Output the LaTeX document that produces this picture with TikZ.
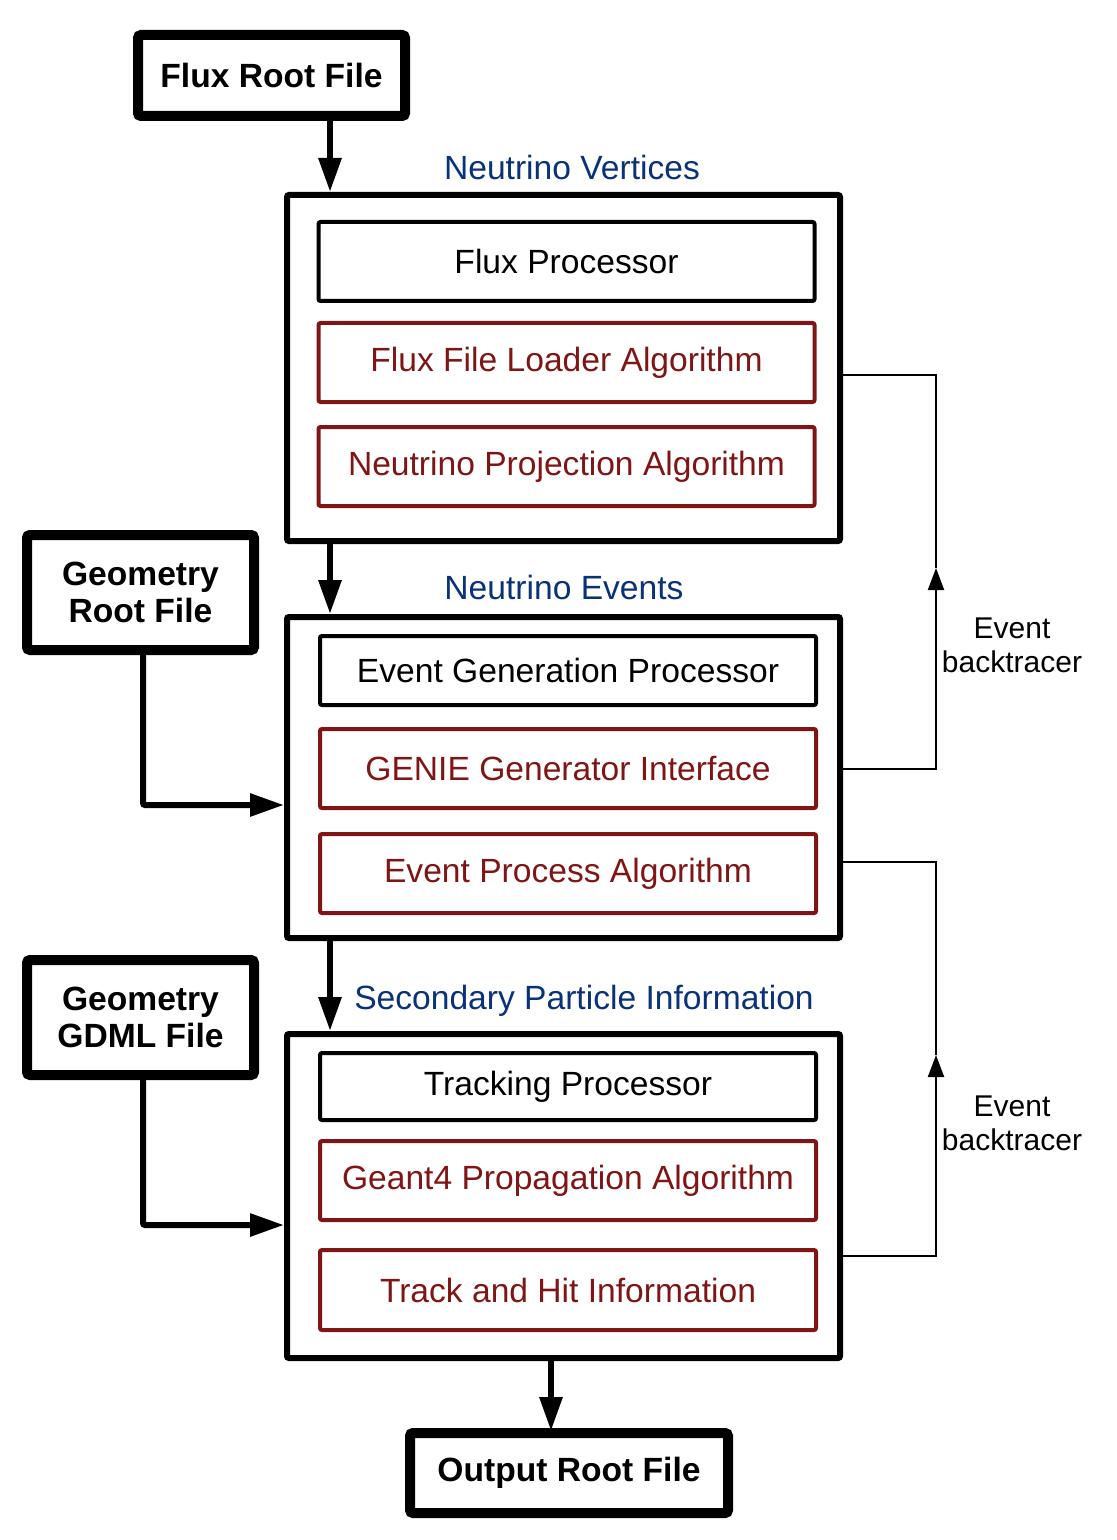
\documentclass[tikz,border=0pt]{standalone}
\usepackage{fontspec}
\setmainfont{Liberation Sans}
\usetikzlibrary{arrows.meta}
\definecolor{algred}{RGB}{127,21,21}
\definecolor{datablue}{RGB}{10,50,120}

\begin{document}
\begin{tikzpicture}[x=0.5pt,y=-0.5pt,
	file/.style={draw,line width=5pt,rounded corners=1.5pt,align=center,
		font=\fontsize{16.8}{18.5}\selectfont\bfseries},
	holder/.style={draw,line width=3pt,rounded corners=1pt,minimum width=276.5pt},
	proc/.style={draw,line width=2pt,rounded corners=1pt,minimum width=248pt,
		font=\fontsize{16.8}{18.5}\selectfont},
	algo/.style={proc,draw=algred,text=algred},
	data/.style={text=datablue,font=\fontsize{16.8}{18.5}\selectfont},
	flow/.style={line width=3pt,-{Triangle[length=17pt,width=11pt]}},
	back/.style={line width=1pt},
	note/.style={align=center,font=\fontsize{15}{17}\selectfont}]
	\useasboundingbox (0,0) rectangle (1116,1540);

	% input files
	\node[file,minimum width=133.5pt,minimum height=40.5pt] (flux) at (271.5,75.5) {Flux Root File};
	\node[file,minimum width=113.5pt,minimum height=57.5pt] (georoot) at (140.5,592.5) {Geometry\\Root File};
	\node[file,minimum width=113.5pt,minimum height=57.5pt] (geogdml) at (140.5,1017.5) {Geometry\\GDML File};
	\node[file,minimum width=159pt,minimum height=40pt] (output) at (569,1473) {Output Root File};

	% processor blocks
	\node[holder,minimum height=173pt] (vert) at (563.5,368) {};
	\node[holder,minimum height=160.5pt] (events) at (563.5,777.5) {};
	\node[holder,minimum height=162pt] (second) at (563.5,1196) {};

	\node[proc,minimum height=39.5pt] (fluxproc) at (566.5,261.5) {Flux Processor};
	\node[algo,minimum height=39.5pt] (fluxload) at (566.5,362.5) {Flux File Loader Algorithm};
	\node[algo,minimum height=39.5pt] (nuproj) at (566.5,466.5) {Neutrino Projection Algorithm};

	\node[proc,minimum height=34.5pt] (evgen) at (568,670.5) {Event Generation Processor};
	\node[algo,minimum height=39.5pt] (genie) at (568,768.5) {GENIE Generator Interface};
	\node[algo,minimum height=39.5pt] (evproc) at (568,873.5) {Event Process Algorithm};

	\node[proc,minimum height=33.5pt] (track) at (568,1086.5) {Tracking Processor};
	\node[algo,minimum height=39.5pt] (geant) at (568,1180.5) {Geant4 Propagation Algorithm};
	\node[algo,minimum height=40pt] (trackhit) at (568,1290) {Track and Hit Information};

	% data labels
	\node[data] (vertlbl) at (572,167) {Neutrino Vertices};
	\node[data] (evlbl) at (564,587) {Neutrino Events};
	\node[data] (seclbl) at (584,1001) {Secondary Particle Information};

	% main flow
	\coordinate (lane) at (330,0);
	\draw[flow] (flux.south -| lane) -- (vert.north -| lane);
	\draw[flow] (vert.south -| lane) -- (events.north -| lane);
	\draw[flow] (events.south -| lane) -- (second.north -| lane);
	\draw[flow] (second.south -| output.north) ++(-18,0) -- ++(0,70);
	\draw[flow,rounded corners=1pt] (georoot.south) ++(2.5,0) |- (events.west |- 0,805);
	\draw[flow,rounded corners=1pt] (geogdml.south) ++(2.5,0) |- (second.west |- 0,1225);

	% backtracers
	\coordinate (bt1) at (936,568);
	\coordinate (bt2) at (936,1055);
	\draw[back,-{Triangle[length=11pt,width=8pt]}] (events.east |- 0,769) -| (bt1);
	\draw[back] (bt1) |- (vert.east |- 0,375);
	\draw[back,-{Triangle[length=11pt,width=8pt]}] (second.east |- 0,1256) -| (bt2);
	\draw[back] (bt2) |- (events.east |- 0,862);
	\node[note] (bt1lbl) at (1012,645) {Event\\backtracer};
	\node[note] (bt2lbl) at (1012,1123) {Event\\backtracer};
\end{tikzpicture}
\end{document}
